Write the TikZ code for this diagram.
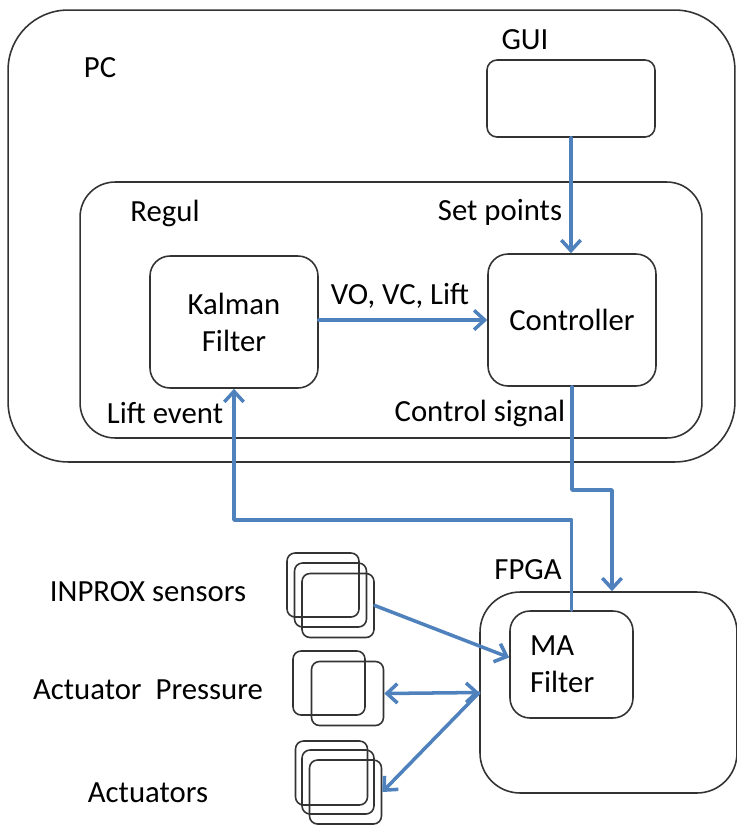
\documentclass[tikz,border=0pt]{standalone}
\usepackage{fontspec}
\setmainfont{Carlito}
\usepackage{xcolor}
\usetikzlibrary{arrows.meta,positioning}
\definecolor{linkblue}{RGB}{79,129,189}

\begin{document}
\begin{tikzpicture}[x=0.02cm, y=-0.02cm, line cap=round, line join=round,
    box/.style={draw=black!80, line width=0.9pt, inner sep=0pt},
    unit/.style={box, rounded corners=0.16cm, minimum width=1.44cm, minimum height=1.28cm},
    lbl/.style={font=\fontsize{17.5}{21}\selectfont, inner sep=0pt},
    link/.style={draw=linkblue, line width=2pt,
                 -{Straight Barb[length=6pt, width=11pt]}},
    dlink/.style={link, {Straight Barb[length=6pt, width=11pt]}-{Straight Barb[length=6pt, width=11pt]}}]

% ---------------------------------------------------------
% Frame
% ---------------------------------------------------------
\useasboundingbox (0,0) rectangle (737,826);

% ---------------------------------------------------------
% PC and Regul
% ---------------------------------------------------------
\node[box, rounded corners=1.2cm, minimum width=14.54cm, minimum height=9.04cm]
    (pc) at (371.5,236) {};
\node[box, rounded corners=0.7cm, minimum width=12.44cm, minimum height=5.12cm]
    (regul) at (391,310) {};
\node[box, rounded corners=0.2cm, minimum width=3.36cm, minimum height=1.54cm]
    (gui) at (571,98.5) {};

\node[box, rounded corners=0.4cm, minimum width=3.36cm, minimum height=2.64cm,
      lbl, align=center] (kalman) at (234,322) {Kalman\\Filter};
\node[box, rounded corners=0.4cm, minimum width=3.36cm, minimum height=2.64cm,
      lbl] (ctrl) at (572,320) {Controller};

% ---------------------------------------------------------
% FPGA
% ---------------------------------------------------------
\node[box, rounded corners=0.8cm, minimum width=5.14cm, minimum height=4.02cm]
    (fpga) at (608.5,692.5) {};
\node[box, rounded corners=0.4cm, lbl, align=left, text width=1.66cm,
      inner xsep=0.4cm, minimum height=2.14cm] (ma) at (571.5,664.5) {MA\\Filter};

% ---------------------------------------------------------
% Sensors and actuators
% ---------------------------------------------------------
\node[unit] (in1) at (323,585) {};
\node[unit] (in2) at (330.5,595) {};
\node[unit] (in3) at (338,605.5) {};

\node[unit] (ap1) at (329,683) {};
\node[unit] (ap2) at (347.5,693.5) {};

\node[unit] (act1) at (331.5,773) {};
\node[unit] (act2) at (338,782) {};
\node[unit] (act3) at (345.5,792) {};

% ---------------------------------------------------------
% Labels
% ---------------------------------------------------------
\node[lbl] (pcl)    at (100,68)  {PC};
\node[lbl] (guil)   at (525,40)  {GUI};
\node[lbl] (regull) at (165,213) {Regul};
\node[lbl] (setl)   at (500,212) {Set points};
\node[lbl] (vol)    at (400,296) {VO, VC, Lift};
\node[lbl] (liftl)  at (165,413) {Lift event};
\node[lbl] (ctrll)  at (480,413) {Control signal};
\node[lbl] (fpgal)  at (528,570) {FPGA};
\node[lbl] (inl)    at (148,592) {INPROX sensors};
\node[lbl] (apl)    at (148,690) {Actuator~~Pressure};
\node[lbl] (actl)   at (148,793) {Actuators};

% ---------------------------------------------------------
% Signals
% ---------------------------------------------------------
\coordinate (bend1) at (612,490);
\coordinate (bend2) at (kalman.south |- 0,520);

\draw[link] (gui) -- (gui |- ctrl.north);
\draw[link] (kalman.east |- ctrl) -- (ctrl.west);
\draw[link] (ctrl.south) |- (bend1) -- (bend1 |- fpga.north);
\draw[link] (ma.north) |- (bend2) -- (kalman.south);

\draw[link] (in3.east) -- ([yshift=0.14cm]ma.west);
\draw[dlink] (ap2.east) -- (fpga.west);
\draw[link] (fpga.west) -- (act3.east);

\end{tikzpicture}
\end{document}
